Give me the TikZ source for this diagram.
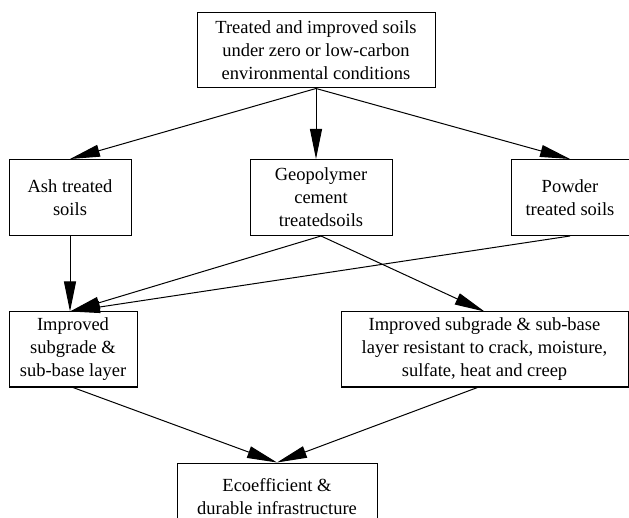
\documentclass[tikz,border=0pt]{standalone}
\usepackage{fontspec}
\setmainfont{Liberation Serif}
\usetikzlibrary{arrows.meta}
\begin{document}
\begin{tikzpicture}[x=1pt, y=-1pt, line width=1pt,
    box/.style={draw, align=center, inner sep=0pt, minimum height=76pt,
        font=\fontsize{18.5}{23}\selectfont},
    arr/.style={-{Triangle[length=30pt, width=12pt]}}]
            \useasboundingbox (0,0) rectangle (629,518);

            \node[box, minimum width=238pt, minimum height=75pt] (top) at (316,50.5) {Treated and improved soils\\under zero or low-carbon\\environmental conditions};
            \node[box, minimum width=122pt] (ash) at (70,197.5) {Ash treated\\soils};
            \node[box, minimum width=142pt] (geo) at (321,197.5) {Geopolymer\\cement\\treatedsoils};
            \node[box, minimum width=118pt] (pow) at (570,197.5) {Powder\\treated soils};
            \node[box, minimum width=128pt, minimum height=75pt] (imp) at (73,349.5) {Improved\\subgrade \&\\sub-base layer};
            \node[box, minimum width=287pt, minimum height=75pt] (res) at (484.5,349.5) {Improved subgrade \& sub-base\\layer resistant to crack, moisture,\\sulfate, heat and creep};
            \node[box, minimum width=200pt, minimum height=77pt, text depth=10pt] (eco) at (277,501.5) {Ecoefficient \&\\durable infrastructure};

            \draw[arr] (top.south) -- (ash.north);
            \draw[arr] (top.south) -- (top.south |- geo.north);
            \draw[arr] (top.south) -- (pow.north);
            \draw[arr] (ash.south) -- (ash.south |- imp.north);
            \draw[arr] (geo.south) -- (ash.south |- imp.north);
            \draw[arr] (pow.south) -- (ash.south |- imp.north);
            \draw[arr] (geo.south) -- (res.north);
            \draw[arr] (imp.south) -- (eco.north);
            \draw[arr] ([xshift=-7pt]res.south) -- (eco.north);
        \end{tikzpicture}
\end{document}
